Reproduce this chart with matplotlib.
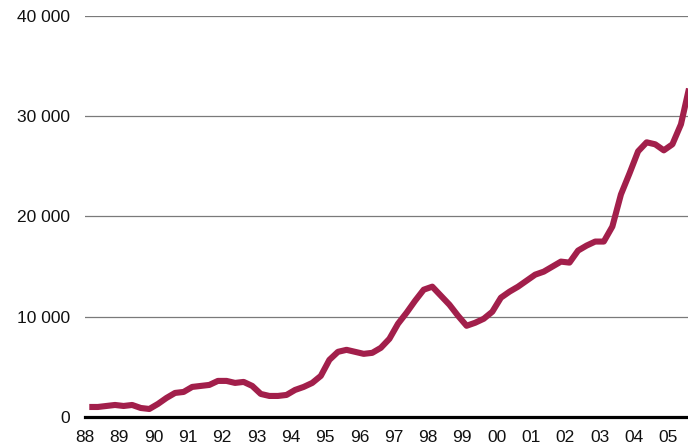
import matplotlib
matplotlib.use("Agg")
import matplotlib.pyplot as plt
import numpy as np

# Quarterly series, 1988Q1 .. 2005Q3
start_year = 1988
values = [
    1000, 1000, 1100, 1200,      # 88
    1100, 1200, 900, 800,        # 89
    1300, 1900, 2400, 2500,      # 90
    3000, 3100, 3200, 3600,      # 91
    3600, 3400, 3500, 3100,      # 92
    2300, 2100, 2100, 2200,      # 93
    2700, 3000, 3400, 4100,      # 94
    5700, 6500, 6700, 6500,      # 95
    6300, 6400, 6900, 7800,      # 96
    9300, 10400, 11600, 12700,   # 97
    13000, 12100, 11200, 10100,  # 98
    9100, 9400, 9800, 10500,     # 99
    11900, 12500, 13000, 13600,  # 00
    14200, 14500, 15000, 15500,  # 01
    15400, 16600, 17100, 17500,  # 02
    17500, 19000, 22200, 24300,  # 03
    26500, 27400, 27200, 26600,  # 04
    27200, 29200, 33000,         # 05
]
year_ticks = list(range(1988, 2006))
year_labels = ["88", "89", "90", "91", "92", "93", "94", "95", "96",
               "97", "98", "99", "00", "01", "02", "03", "04", "05"]
y_ticks = [0, 10000, 20000, 30000, 40000]
y_labels = ["0", "10 000", "20 000", "30 000", "40 000"]

plt.rcParams["font.family"] = ["Liberation Sans", "DejaVu Sans"]

fig = plt.figure(figsize=(6.88, 4.47), dpi=100)
ax = fig.add_axes([85 / 688, 30 / 447, 1 - 85 / 688, 401 / 447])

idx = np.arange(len(values))
x = start_year + (idx % 4 + 0.5) / 4 + idx // 4
ax.plot(x, values, color="#A21F4B", lw=4.4, solid_joinstyle="round",
        solid_capstyle="butt", zorder=3)

ax.set_xlim(1988, 1988 + (688 - 85) / 34.3)
ax.set_ylim(0, 40000)
ax.set_xticks(year_ticks)
ax.set_xticklabels(year_labels)
ax.set_yticks(y_ticks)
ax.set_yticklabels(y_labels)
ax.tick_params(axis="both", length=0, labelsize=12.5, colors="#111111")
ax.tick_params(axis="y", pad=11)
ax.tick_params(axis="x", pad=9)

for s in ["top", "right", "left"]:
    ax.spines[s].set_visible(False)
ax.spines["bottom"].set_linewidth(2.3)
ax.spines["bottom"].set_color("black")
ax.spines["bottom"].set_zorder(4)

ax.yaxis.grid(True, color="#7a7a7a", lw=0.9)
ax.set_axisbelow(True)

fig.savefig("out.png", dpi=100)
